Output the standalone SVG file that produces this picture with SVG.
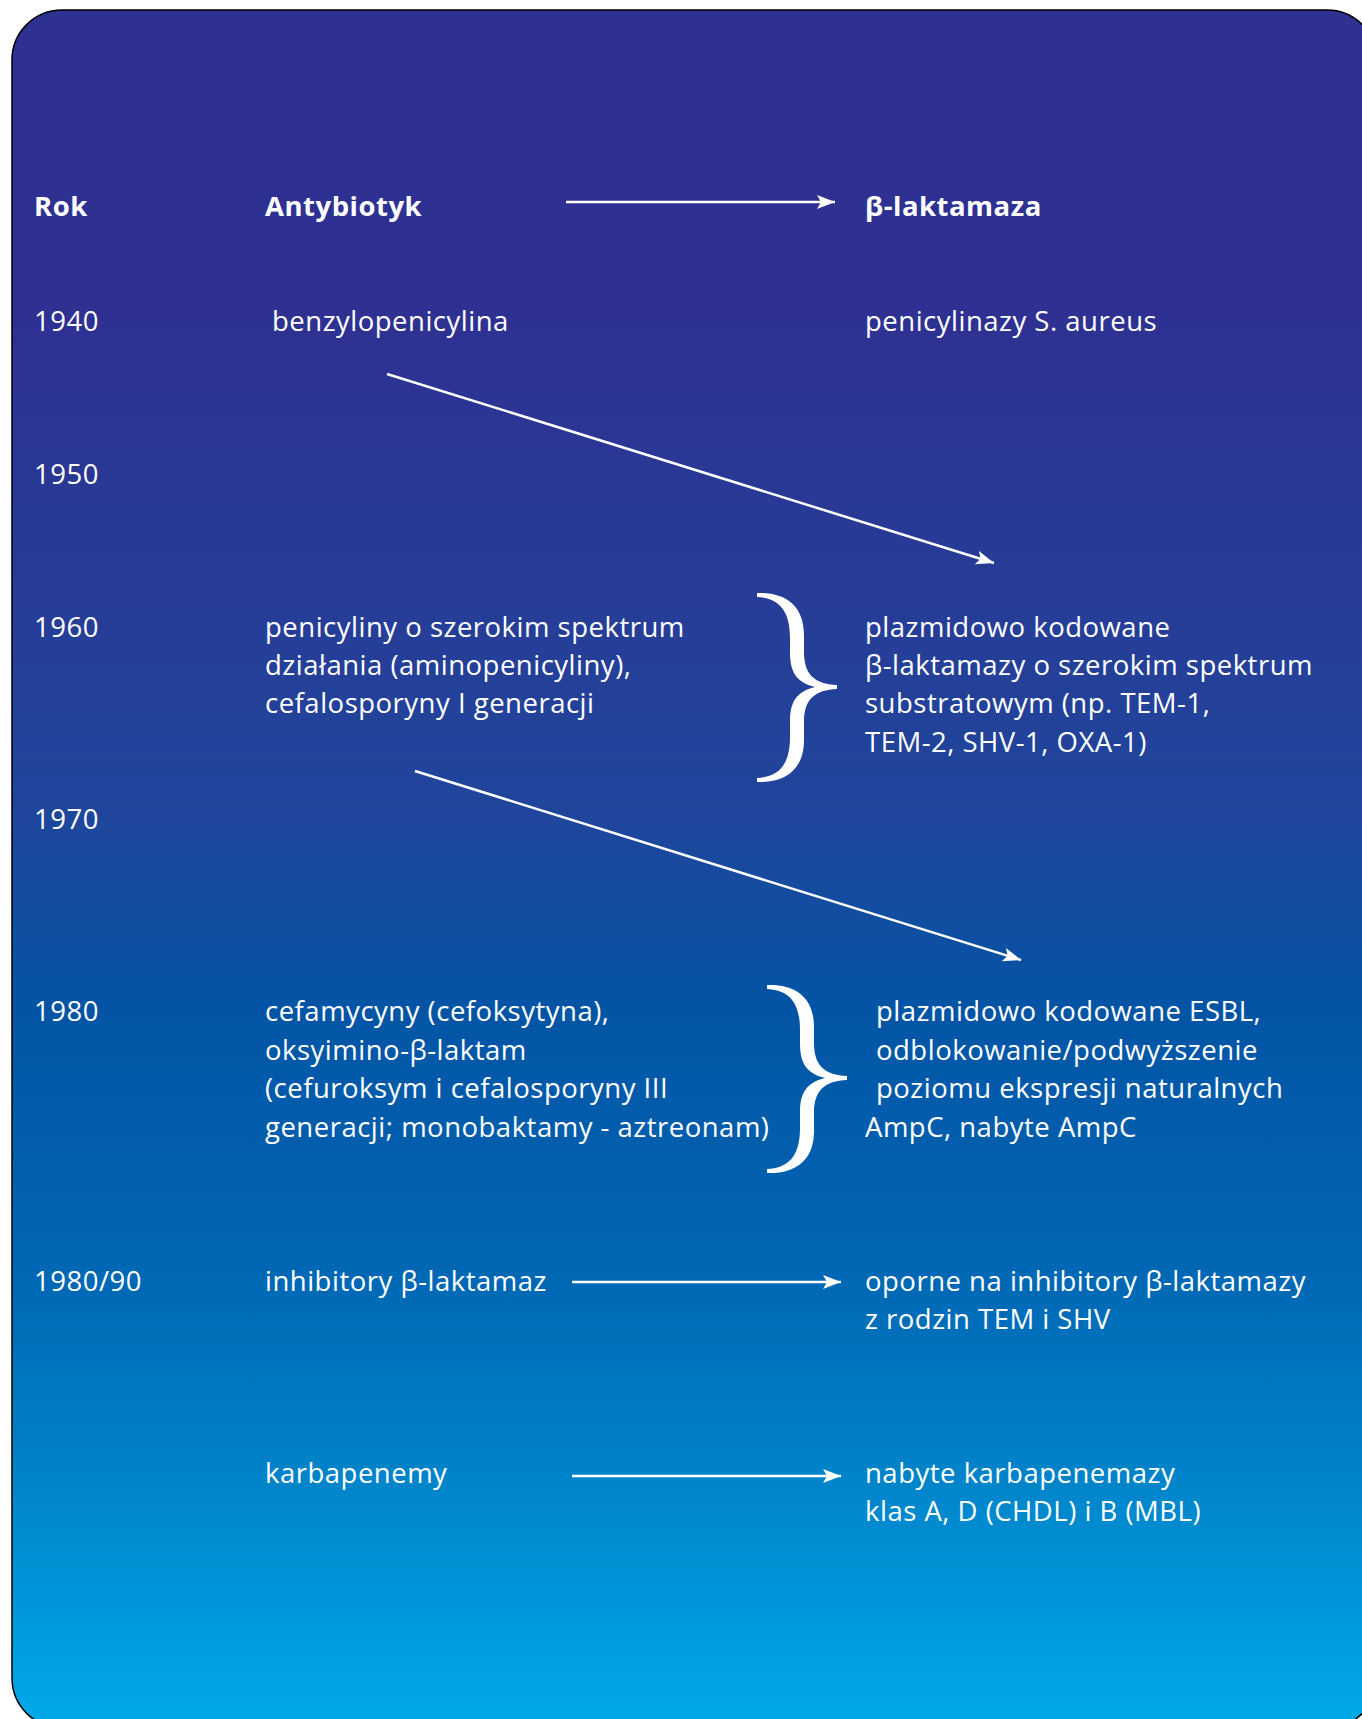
<svg xmlns="http://www.w3.org/2000/svg" width="1362" height="1719" viewBox="0 0 1362 1719">
<defs>
<linearGradient id="bg" gradientUnits="userSpaceOnUse" x1="0" y1="10" x2="0" y2="1728">
<stop offset="0" stop-color="#2e3192"/>
<stop offset="0.18" stop-color="#2e3192"/>
<stop offset="0.36" stop-color="#263e98"/>
<stop offset="0.47" stop-color="#1f469c"/>
<stop offset="0.58" stop-color="#0454a5"/>
<stop offset="0.74" stop-color="#0068b5"/>
<stop offset="0.86" stop-color="#0085cb"/>
<stop offset="1" stop-color="#00aaea"/>
</linearGradient>
<marker id="ah" markerUnits="userSpaceOnUse" markerWidth="20" markerHeight="16" refX="18" refY="7" orient="auto" viewBox="0 0 20 16">
<path d="M0,0 L18,7 L0,14 L4,7 Z" fill="#fff"/>
</marker>
</defs>
<style>
text{font-family:"Open Sans","Noto Sans","Liberation Sans",sans-serif;font-size:27.5px;letter-spacing:0.5px;fill:#fff}
.b{font-weight:bold}
.ar{stroke:#fff;stroke-width:2.5;fill:none;marker-end:url(#ah)}
.br{fill:#fff}
</style>
<rect x="12" y="10" width="1365" height="1718" rx="50" ry="50" fill="url(#bg)" stroke="#000" stroke-width="1.5"/>

<g id="header">
<text class="b" x="34" y="216">Rok</text>
<text class="b" x="265" y="216">Antybiotyk</text>
<text class="b" x="865" y="216">β-laktamaza</text>
</g>

<g id="years">
<text x="34" y="331">1940</text>
<text x="34" y="484">1950</text>
<text x="34" y="637">1960</text>
<text x="34" y="829">1970</text>
<text x="34" y="1021">1980</text>
<text x="34" y="1291">1980/90</text>
</g>

<g id="ab1940"><text x="272" y="331">benzylopenicylina</text></g>
<g id="bl1940"><text x="865" y="331">penicylinazy S. aureus</text></g>

<g id="ab1960">
<text x="265" y="637">penicyliny o szerokim spektrum</text>
<text x="265" y="675">działania (aminopenicyliny),</text>
<text x="265" y="713">cefalosporyny I generacji</text>
</g>
<g id="bl1960">
<text x="865" y="637">plazmidowo kodowane</text>
<text x="865" y="675">β-laktamazy o szerokim spektrum</text>
<text x="865" y="713">substratowym (np. TEM-1,</text>
<text x="865" y="752">TEM-2, SHV-1, OXA-1)</text>
</g>

<g id="ab1980">
<text x="265" y="1021">cefamycyny (cefoksytyna),</text>
<text x="265" y="1060">oksyimino-β-laktam</text>
<text x="265" y="1098">(cefuroksym i cefalosporyny III</text>
<text x="265" y="1137">generacji; monobaktamy - aztreonam)</text>
</g>
<g id="bl1980">
<text x="876" y="1021">plazmidowo kodowane ESBL,</text>
<text x="876" y="1060">odblokowanie/podwyższenie</text>
<text x="876" y="1098">poziomu ekspresji naturalnych</text>
<text x="865" y="1137">AmpC, nabyte AmpC</text>
</g>

<g id="ab1990"><text x="265" y="1291">inhibitory β-laktamaz</text></g>
<g id="bl1990">
<text x="865" y="1291">oporne na inhibitory β-laktamazy</text>
<text x="865" y="1329">z rodzin TEM i SHV</text>
</g>

<g id="abkarb"><text x="265" y="1483">karbapenemy</text></g>
<g id="blkarb">
<text x="865" y="1483">nabyte karbapenemazy</text>
<text x="865" y="1521">klas A, D (CHDL) i B (MBL)</text>
</g>

<g id="brace1">
<path class="br" d="M757,593 C785,592 804,605 804,635 L804,652 C804,675 815,684 837,685 L837,689 C815,690 804,699 804,722 L804,740 C804,770 785,783 757,782 L757,778 C777,777 790,767 790,737 L790,722 C790,702 796,692 815,687 C796,682 790,672 790,652 L790,638 C790,608 777,598 757,597 Z"/>
</g>
<g id="brace2">
<path class="br" d="M767,985 C795,984 814,997 814,1027 L814,1043 C814,1066 825,1075 847,1076 L847,1080 C825,1081 814,1090 814,1113 L814,1131 C814,1161 795,1174 767,1173 L767,1169 C787,1168 800,1158 800,1128 L800,1113 C800,1093 806,1083 825,1078 C806,1073 800,1063 800,1043 L800,1030 C800,1000 787,990 767,989 Z"/>
</g>

<g id="connectors">
<line class="ar" x1="566" y1="202" x2="835" y2="202"/>
<line class="ar" x1="387" y1="374" x2="994" y2="563"/>
<line class="ar" x1="415" y1="771" x2="1021" y2="960"/>
<line class="ar" x1="572" y1="1282" x2="841" y2="1282"/>
<line class="ar" x1="572" y1="1476" x2="841" y2="1476"/>
</g>
</svg>
